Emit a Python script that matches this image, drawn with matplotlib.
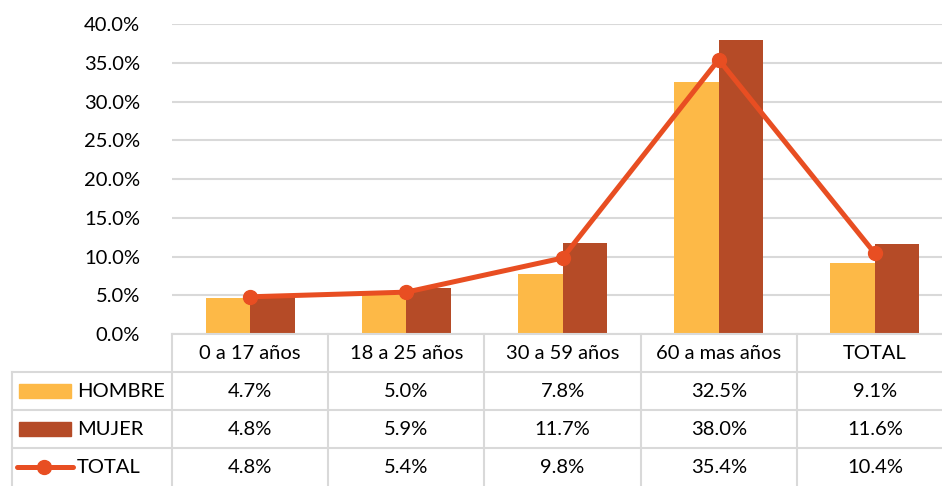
import matplotlib.pyplot as plt
from matplotlib.lines import Line2D
from matplotlib.patches import Rectangle
import numpy as np

plt.rcParams['font.family'] = ['Lato', 'DejaVu Sans']

categorias = ["0 a 17 años", "18 a 25 años", "30 a 59 años", "60 a mas años", "TOTAL"]
hombre = [4.7, 5.0, 7.8, 32.5, 9.1]
mujer = [4.8, 5.9, 11.7, 38.0, 11.6]
total = [4.8, 5.4, 9.8, 35.4, 10.4]
series = ["HOMBRE", "MUJER", "TOTAL"]

c_h = "#FDB947"
c_m = "#B54B27"
c_t = "#E84E22"
grid_c = "#D9D9D9"
fs = 14.5

W, H = 942, 486
fig = plt.figure(figsize=(W / 100, H / 100), dpi=100)

# plot area in pixels
x0, x1, ytop, ybot = 172, 953, 24, 334
ax = fig.add_axes([x0 / W, (H - ybot) / H, (x1 - x0) / W, (ybot - ytop) / H])

x = np.arange(len(categorias))
w = 0.285
ax.bar(x - w / 2, hombre, w, color=c_h, zorder=2)
ax.bar(x + w / 2, mujer, w, color=c_m, zorder=2)
ax.plot(x, total, color=c_t, lw=3.6, marker="o", ms=10, zorder=3)

ax.set_xlim(-0.5, len(categorias) - 0.5)
ax.set_ylim(0, 40)
ax.set_yticks(np.arange(0, 41, 5))
ax.set_yticklabels([f"{v:.1f}%" for v in np.arange(0, 41, 5)], fontsize=fs)
ax.tick_params(axis="y", length=0, pad=23)
ax.set_xticks([])
ax.grid(axis="y", color=grid_c, lw=1.5, zorder=0)
for s in ["top", "right", "left"]:
    ax.spines[s].set_visible(False)
ax.spines["bottom"].set_color(grid_c)
ax.spines["bottom"].set_linewidth(1.5)

# data table below the chart (figure pixel coords)
def px(xp, yp):
    return xp / W, (H - yp) / H

col_w = (x1 - x0) / len(categorias)
row_y = [334, 372, 410, 448, 486]
left = 12

def hline(xa, xb, y):
    fig.add_artist(Line2D([xa / W, xb / W], [(H - y) / H] * 2, color=grid_c, lw=1.5))

def vline(xp, ya, yb):
    fig.add_artist(Line2D([xp / W] * 2, [(H - ya) / H, (H - yb) / H], color=grid_c, lw=1.5))

for y in row_y[1:4]:
    hline(left, W, y)
vline(left, row_y[1], H + 5)
for i in range(len(categorias) + 1):
    vline(x0 + i * col_w, row_y[0], H + 5)

values = [hombre, mujer, total]
for i, cat in enumerate(categorias):
    cx = x0 + (i + 0.5) * col_w
    fig.text(*px(cx, (row_y[0] + row_y[1]) / 2), cat, ha="center", va="center", fontsize=fs)
    for r, vals in enumerate(values):
        cy = (row_y[r + 1] + row_y[r + 2]) / 2
        fig.text(*px(cx, cy), f"{vals[i]:.1f}%", ha="center", va="center", fontsize=fs)

# legend keys in the first column
for r, name in enumerate(series):
    cy = (row_y[r + 1] + row_y[r + 2]) / 2
    if r < 2:
        col = c_h if r == 0 else c_m
        fig.add_artist(Rectangle(px(19, cy + 7), 52 / W, 14 / H, color=col, transform=fig.transFigure))
    else:
        fig.add_artist(Line2D([17 / W, 73 / W], [(H - cy) / H] * 2, color=c_t, lw=3.6,
                              solid_capstyle="round"))
        fig.add_artist(Line2D([44 / W], [(H - cy) / H], color=c_t, marker="o", ms=10))
    fig.text(*px(77, cy), name, ha="left", va="center", fontsize=fs)

fig.savefig("out.png", dpi=100)
